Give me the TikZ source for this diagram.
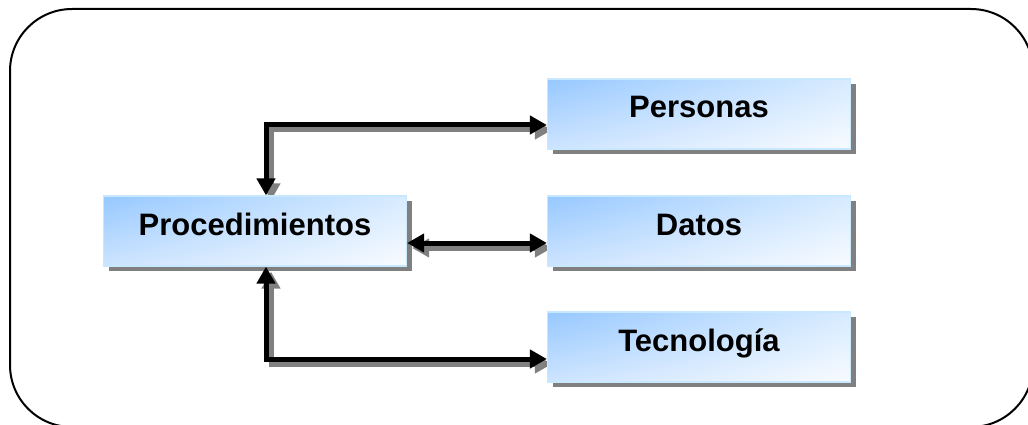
\documentclass[tikz,border=0pt]{standalone}
\usepackage{fontspec}
\setmainfont{Liberation Sans}
\usetikzlibrary{arrows.meta,shadings,shadows,backgrounds}
\definecolor{boxtl}{RGB}{150,200,255}
\definecolor{boxtr}{RGB}{215,235,255}
\definecolor{boxbl}{RGB}{205,228,255}
\definecolor{boxbr}{RGB}{248,251,255}
\definecolor{boxborder}{RGB}{200,232,255}
\definecolor{shadowgray}{RGB}{128,128,128}
\begin{document}
\begin{tikzpicture}[x=1pt,y=-1pt,
  box/.style={draw=boxborder, line width=1.2pt,
    upper left=boxtl, upper right=boxtr, lower left=boxbl, lower right=boxbr,
    minimum width=303pt, minimum height=70pt, inner sep=0pt,
    font=\bfseries\fontsize{31}{36}\selectfont, text height=22pt, text depth=14pt,
    drop shadow={shadow xshift=5pt, shadow yshift=-5pt, fill=shadowgray, opacity=1}},
  conn/.style={line width=5pt, line join=miter,
    {Triangle[length=17pt,width=18pt]}-{Triangle[length=17pt,width=18pt]}},
  connshadow/.style={conn, draw=shadowgray, transform canvas={shift={(5pt,-5pt)}}},
  frame/.style={draw=black, line width=2pt, rounded corners=62pt}]
\useasboundingbox (0,0) rectangle (1028,425);
\begin{scope}
  \clip (0,0) rectangle (1028,425);
  \draw[frame] (10,9) rectangle (1033,427);
\end{scope}
\node[box] (proc) at (255,231) {Procedimientos};
\node[box] (pers) at (699,114) {Personas};
\node[box] (datos) at (699,231) {Datos};
\node[box] (tec) at (699,347) {Tecnología};
\coordinate (c1) at (266,125);
\coordinate (c2) at (0,243);
\coordinate (c3) at (266,359);
\begin{pgfonlayer}{background}
  \draw[connshadow] (proc.north -| c1) |- (pers.west |- c1);
  \draw[connshadow] (proc.east |- c2) -- (datos.west |- c2);
  \draw[connshadow] (proc.south -| c3) |- (tec.west |- c3);
\end{pgfonlayer}
\draw[conn] (proc.north -| c1) |- (pers.west |- c1);
\draw[conn] (proc.east |- c2) -- (datos.west |- c2);
\draw[conn] (proc.south -| c3) |- (tec.west |- c3);
\end{tikzpicture}
\end{document}
